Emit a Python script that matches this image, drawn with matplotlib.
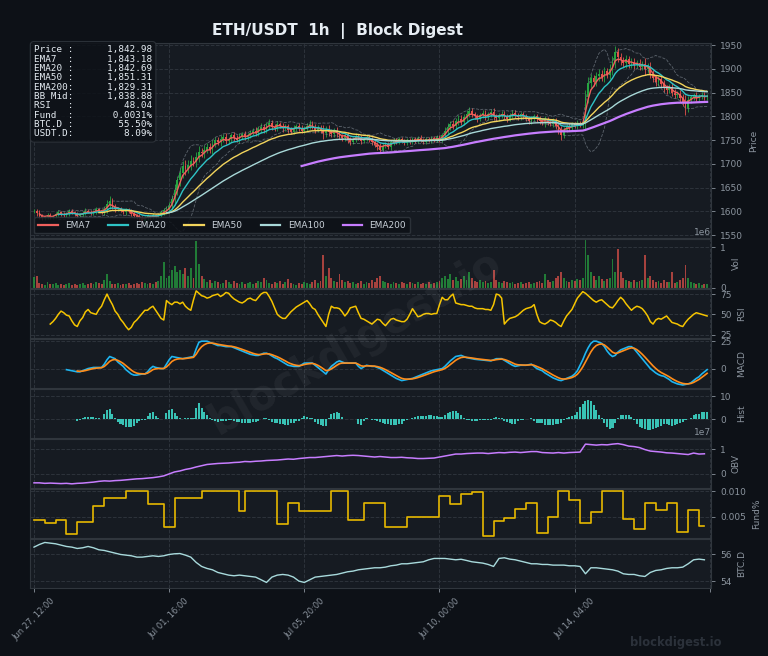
import numpy as np
import pandas as pd
import matplotlib
matplotlib.use("Agg")
import matplotlib.pyplot as plt

# ---- data ----
# 2-hour bars, bar 0 = Jun 27 12:00
close = [
    1600, 1596, 1590, 1585, 1588, 1592, 1587, 1590, 1595, 1598,
    1594, 1592, 1596, 1600, 1598, 1594, 1590, 1593, 1597, 1601,
    1599, 1596, 1600, 1604, 1602, 1598, 1605, 1615, 1622, 1610,
    1604, 1606, 1601, 1598, 1603, 1600, 1595, 1590, 1588, 1584,
    1580, 1586, 1590, 1587, 1592, 1589, 1593, 1598, 1602, 1605,
    1612, 1625, 1645, 1665, 1680, 1695, 1690, 1698, 1706, 1704,
    1715, 1725, 1722, 1730, 1736, 1730, 1742, 1750, 1745, 1752,
    1757, 1748, 1752, 1760, 1755, 1750, 1758, 1763, 1756, 1760,
    1766, 1770, 1765, 1773, 1778, 1772, 1781, 1786, 1778, 1775,
    1784, 1780, 1775, 1779, 1772, 1768, 1775, 1780, 1776, 1770,
    1774, 1780, 1785, 1778, 1772, 1776, 1770, 1765, 1772, 1768,
    1762, 1770, 1764, 1758, 1754, 1760, 1750, 1746, 1752, 1758,
    1755, 1748, 1752, 1756, 1750, 1745, 1740, 1736, 1730, 1738,
    1742, 1735, 1745, 1750, 1746, 1752, 1748, 1744, 1750, 1746,
    1752, 1748, 1755, 1750, 1746, 1752, 1749, 1754, 1750, 1756,
    1752, 1760, 1770, 1778, 1785, 1780, 1790, 1795, 1788, 1798,
    1805, 1812, 1805, 1800, 1795, 1802, 1808, 1798, 1804, 1810,
    1800, 1796, 1802, 1806, 1800, 1795, 1803, 1808, 1802, 1798,
    1804, 1800, 1795, 1790, 1796, 1800, 1794, 1790, 1786, 1792,
    1788, 1784, 1790, 1780, 1770, 1760, 1772, 1780, 1776, 1784,
    1780, 1786, 1782, 1788, 1840, 1870, 1880, 1872, 1885, 1890,
    1882, 1895, 1888, 1900, 1915, 1935, 1925, 1918, 1912, 1920,
    1910, 1915, 1908, 1912, 1905, 1910, 1900, 1905, 1890, 1880,
    1872, 1878, 1868, 1860, 1855, 1862, 1850, 1845, 1848, 1838,
    1830, 1818, 1835, 1840, 1845, 1838, 1842, 1846, 1840, 1843,
]
wick = [
    4, 5, 6, 4, 3, 5, 4, 3, 4, 5,
    3, 4, 3, 5, 4, 3, 4, 3, 4, 5,
    3, 4, 3, 5, 4, 3, 6, 8, 10, 6,
    5, 4, 3, 4, 5, 3, 4, 5, 4, 6,
    7, 5, 4, 3, 4, 3, 4, 5, 6, 7,
    8, 10, 12, 10, 12, 10, 14, 10, 12, 8,
    10, 12, 8, 9, 7, 8, 9, 7, 6, 8,
    6, 7, 5, 6, 7, 5, 6, 5, 6, 5,
    6, 5, 7, 6, 8, 6, 7, 8, 6, 5,
    6, 5, 7, 5, 6, 5, 6, 5, 6, 5,
    5, 6, 7, 5, 6, 5, 6, 12, 8, 9,
    6, 5, 7, 6, 5, 6, 7, 6, 5, 6,
    5, 6, 5, 4, 5, 6, 5, 7, 8, 6,
    5, 4, 6, 5, 4, 5, 4, 5, 4, 5,
    4, 5, 4, 5, 4, 5, 4, 5, 4, 5,
    5, 6, 7, 8, 6, 7, 6, 8, 7, 6,
    8, 7, 6, 5, 6, 5, 6, 5, 6, 5,
    8, 6, 5, 6, 5, 6, 5, 6, 5, 5,
    5, 6, 5, 6, 5, 6, 5, 6, 5, 8,
    6, 5, 6, 7, 8, 10, 6, 5, 6, 5,
    5, 6, 5, 6, 15, 12, 10, 8, 9, 10,
    8, 9, 8, 10, 12, 14, 10, 9, 8, 9,
    8, 7, 8, 7, 8, 7, 12, 8, 9, 8,
    7, 8, 7, 8, 7, 6, 8, 7, 6, 8,
    9, 15, 8, 6, 5, 6, 5, 6, 5, 5,
]
volume = [  # millions
    0.27, 0.30, 0.12, 0.10, 0.08, 0.15, 0.10, 0.09, 0.12, 0.08,
    0.10, 0.07, 0.09, 0.12, 0.08, 0.10, 0.07, 0.09, 0.11, 0.08,
    0.10, 0.12, 0.09, 0.15, 0.12, 0.10, 0.20, 0.35, 0.18, 0.10,
    0.09, 0.12, 0.08, 0.10, 0.09, 0.11, 0.08, 0.10, 0.12, 0.09,
    0.15, 0.11, 0.09, 0.12, 0.10, 0.14, 0.18, 0.30, 0.65, 0.25,
    0.30, 0.45, 0.55, 0.40, 0.45, 0.35, 0.50, 0.30, 0.50, 0.25,
    1.15, 0.60, 0.30, 0.22, 0.15, 0.20, 0.12, 0.18, 0.15, 0.10,
    0.12, 0.20, 0.15, 0.10, 0.18, 0.12, 0.09, 0.14, 0.10, 0.12,
    0.15, 0.10, 0.12, 0.18, 0.14, 0.25, 0.20, 0.12, 0.10, 0.15,
    0.12, 0.18, 0.10, 0.14, 0.22, 0.12, 0.10, 0.08, 0.12, 0.10,
    0.14, 0.12, 0.10, 0.15, 0.20, 0.12, 0.18, 0.82, 0.30, 0.50,
    0.25, 0.18, 0.15, 0.35, 0.20, 0.14, 0.18, 0.12, 0.15, 0.10,
    0.12, 0.18, 0.10, 0.14, 0.12, 0.20, 0.15, 0.25, 0.30, 0.18,
    0.15, 0.12, 0.10, 0.14, 0.12, 0.10, 0.15, 0.12, 0.10, 0.14,
    0.12, 0.10, 0.15, 0.10, 0.12, 0.10, 0.14, 0.10, 0.12, 0.15,
    0.18, 0.25, 0.30, 0.22, 0.35, 0.20, 0.28, 0.18, 0.22, 0.30,
    0.20, 0.40, 0.25, 0.18, 0.15, 0.20, 0.14, 0.18, 0.12, 0.15,
    0.45, 0.20, 0.15, 0.12, 0.18, 0.14, 0.12, 0.15, 0.10, 0.12,
    0.14, 0.10, 0.12, 0.15, 0.10, 0.12, 0.14, 0.18, 0.12, 0.35,
    0.20, 0.15, 0.18, 0.25, 0.30, 0.40, 0.25, 0.18, 0.15, 0.20,
    0.18, 0.22, 0.20, 0.25, 1.17, 0.82, 0.40, 0.30, 0.20, 0.30,
    0.22, 0.18, 0.22, 0.25, 0.72, 0.40, 0.95, 0.40, 0.25, 0.20,
    0.18, 0.15, 0.20, 0.15, 0.18, 0.20, 0.82, 0.25, 0.30, 0.20,
    0.15, 0.18, 0.12, 0.20, 0.15, 0.15, 0.38, 0.12, 0.15, 0.20,
    0.25, 0.57, 0.25, 0.15, 0.12, 0.10, 0.12, 0.08, 0.10, 0.09,
]
rsi = [
    np.nan, np.nan, np.nan, np.nan, np.nan, np.nan, 38, 41, 45, 50,
    54, 52, 49, 48, 42, 37, 35, 42, 46, 53,
    56, 52, 51, 50, 56, 60, 68, 75, 68, 62,
    54, 50, 44, 40, 35, 31, 34, 40, 43, 47,
    51, 55, 55, 58, 60, 55, 50, 45, 43, 67,
    64, 62, 65, 65, 63, 65, 60, 57, 55, 68,
    79, 76, 73, 72, 70, 71, 73, 74, 75, 72,
    74, 77, 76, 72, 69, 67, 65, 64, 66, 69,
    70, 68, 67, 71, 75, 77, 77, 72, 66, 58,
    50, 47, 45, 45, 49, 53, 56, 59, 61, 63,
    65, 67, 63, 58, 56, 50, 45, 40, 35, 50,
    60, 58, 58, 57, 53, 48, 52, 58, 59, 60,
    52, 45, 44, 42, 40, 38, 41, 44, 43, 39,
    36, 40, 44, 45, 43, 42, 41, 41, 44, 50,
    57, 52, 47, 48, 50, 51, 51, 50, 51, 51,
    62, 71, 68, 68, 72, 75, 64, 63, 62, 62,
    61, 60, 60, 58, 57, 57, 57, 56, 56, 55,
    62, 75, 74, 70, 38, 42, 45, 46, 47, 49,
    52, 55, 57, 58, 59, 62, 50, 41, 39, 38,
    40, 43, 42, 40, 37, 35, 42, 48, 52, 56,
    63, 70, 74, 78, 76, 73, 70, 67, 65, 67,
    68, 65, 62, 59, 58, 62, 67, 71, 68, 63,
    59, 55, 58, 60, 59, 57, 53, 48, 41, 38,
    43, 45, 44, 46, 48, 44, 40, 39, 38, 36,
    35, 40, 44, 47, 50, 52, 51, 50, 49, 48,
]
macd = [
    np.nan, np.nan, np.nan, np.nan, np.nan, np.nan, np.nan, np.nan, np.nan, np.nan,
    np.nan, np.nan, -1, -1.5, -2, -2.5, -3, -3, -2, -1,
    0, 0.5, 1, 1, 1, 1, 4, 8, 11, 10,
    9, 6, 4, 2, -1, -3, -5, -6, -6, -5.5,
    -5, -5, -3, 0, 2, 1, 0.5, 0, 0, 4,
    8, 11, 10.5, 10, 9.5, 9, 9.5, 10, 10.5, 11,
    18, 24, 25, 25, 25, 24, 23, 22, 21, 21,
    20.5, 20, 20, 20, 19, 18, 17, 16, 15, 14,
    13, 12.5, 12, 12, 13, 14, 14, 13, 11.5, 10,
    9, 7.5, 6, 4.5, 3, 2.5, 2, 2, 2, 3.5,
    5, 5, 5, 5, 3, 1, -1, -3, -5, -1,
    2, 4, 6, 7, 6, 5, 5, 5, 5, 5,
    2, 0, 1.5, 3, 2.5, 2, 2, 1, 0, -1.5,
    -3, -4.5, -6, -7.5, -9, -10, -11, -10.5, -10, -9.5,
    -9, -8, -7, -6, -5, -4, -3, -2, -1.5, -1,
    -0.5, 0, 2, 4.5, 7, 9, 11, 11.5, 12, 11,
    10, 9.5, 9, 8.5, 8.2, 8, 7.8, 7.5, 7.2, 7,
    8, 9, 9, 9, 7.5, 6, 4.5, 3, 2, 2.5,
    3, 3, 3, 3.5, 4, 2, 0, -1, -2, -4,
    -5.5, -7, -8.5, -9.5, -10.5, -11, -10, -9, -8, -7,
    -5, -2, 3, 8, 14, 19, 23, 25, 25, 24,
    23, 20, 16, 13, 11, 12, 15, 17, 18, 19,
    20, 20, 18, 15, 12, 9, 6, 3, 0, -2,
    -4, -5.5, -6.5, -7, -8.5, -10, -12, -13, -14, -14.5,
    -15, -14.5, -14, -13, -11, -9, -7.5, -5, -3, -1,
]

# 4-hour samples
obv = [  # 1e7 units
    -0.36, -0.36, -0.38, -0.37, -0.38, -0.39, -0.38, -0.40, -0.38, -0.37,
    -0.35, -0.33, -0.30, -0.28, -0.29, -0.27, -0.26, -0.24, -0.22, -0.20,
    -0.19, -0.17, -0.15, -0.12, -0.08, 0.00, 0.08, 0.12, 0.18, 0.22,
    0.28, 0.33, 0.38, 0.40, 0.42, 0.43, 0.44, 0.46, 0.47, 0.50,
    0.49, 0.51, 0.52, 0.54, 0.55, 0.56, 0.58, 0.60, 0.59, 0.62,
    0.64, 0.66, 0.66, 0.68, 0.70, 0.72, 0.74, 0.72, 0.74, 0.75,
    0.74, 0.72, 0.70, 0.68, 0.70, 0.68, 0.66, 0.66, 0.67, 0.65,
    0.64, 0.62, 0.62, 0.63, 0.64, 0.68, 0.72, 0.76, 0.80, 0.80,
    0.82, 0.83, 0.84, 0.84, 0.82, 0.84, 0.86, 0.85, 0.87, 0.88,
    0.86, 0.88, 0.90, 0.90, 0.86, 0.85, 0.84, 0.86, 0.84, 0.86,
    0.87, 0.88, 1.20, 1.18, 1.16, 1.18, 1.17, 1.20, 1.22, 1.18,
    1.12, 1.10, 1.06, 0.98, 0.92, 0.90, 0.88, 0.85, 0.84, 0.82,
    0.80, 0.78, 0.84, 0.80, 0.81,
]
btc_d = [
    56.55, 56.75, 56.90, 56.85, 56.80, 56.70, 56.60, 56.55, 56.45, 56.50,
    56.60, 56.50, 56.35, 56.30, 56.20, 56.10, 56.00, 55.95, 55.90, 55.80,
    55.80, 55.85, 55.90, 55.85, 55.90, 56.00, 56.05, 56.07, 55.95, 55.80,
    55.40, 55.10, 54.95, 54.85, 54.65, 54.55, 54.45, 54.40, 54.45, 54.40,
    54.35, 54.30, 54.10, 53.90, 54.30, 54.45, 54.50, 54.45, 54.30, 54.00,
    53.90, 54.10, 54.30, 54.35, 54.40, 54.45, 54.50, 54.60, 54.70, 54.75,
    54.85, 54.90, 54.95, 55.00, 55.00, 55.05, 55.15, 55.20, 55.30, 55.30,
    55.35, 55.40, 55.45, 55.60, 55.70, 55.70, 55.70, 55.65, 55.60, 55.64,
    55.55, 55.45, 55.40, 55.35, 55.25, 55.10, 55.70, 55.75, 55.65, 55.60,
    55.50, 55.40, 55.30, 55.30, 55.25, 55.25, 55.20, 55.20, 55.20, 55.15,
    55.15, 55.10, 54.55, 55.00, 55.00, 54.95, 54.90, 54.85, 54.75, 54.55,
    54.50, 54.50, 54.40, 54.35, 54.65, 54.80, 54.85, 54.95, 55.00, 55.00,
    55.05, 55.30, 55.60, 55.65, 55.60,
]
funding = [  # percent
    0.0044, 0.0044, 0.0038, 0.0038, 0.0044, 0.0044, 0.0016, 0.0016, 0.0040, 0.0040,
    0.0040, 0.0070, 0.0070, 0.0086, 0.0086, 0.0086, 0.0086, 0.0100, 0.0100, 0.0100,
    0.0100, 0.0075, 0.0075, 0.0075, 0.0030, 0.0030, 0.0086, 0.0086, 0.0086, 0.0086,
    0.0086, 0.0100, 0.0100, 0.0100, 0.0100, 0.0100, 0.0100, 0.0100, 0.0060, 0.0100,
    0.0100, 0.0100, 0.0100, 0.0100, 0.0100, 0.0036, 0.0036, 0.0076, 0.0076, 0.0060,
    0.0060, 0.0060, 0.0060, 0.0060, 0.0060, 0.0100, 0.0100, 0.0100, 0.0044, 0.0044,
    0.0044, 0.0076, 0.0076, 0.0076, 0.0076, 0.0030, 0.0030, 0.0030, 0.0030, 0.0050,
    0.0050, 0.0050, 0.0050, 0.0050, 0.0050, 0.0090, 0.0090, 0.0074, 0.0074, 0.0094,
    0.0094, 0.0098, 0.0098, 0.0012, 0.0012, 0.0042, 0.0042, 0.0048, 0.0048, 0.0064,
    0.0064, 0.0076, 0.0076, 0.0018, 0.0018, 0.0050, 0.0050, 0.0100, 0.0100, 0.0082,
    0.0082, 0.0038, 0.0038, 0.0058, 0.0058, 0.0100, 0.0100, 0.0100, 0.0100, 0.0046,
    0.0046, 0.0026, 0.0026, 0.0076, 0.0076, 0.0062, 0.0062, 0.0076, 0.0076, 0.0020,
    0.0020, 0.0062, 0.0062, 0.0032, 0.0032,
]

tick_pos = [0, 100, 200, 300, 400, 500]
tick_labels = ["Jun 27, 12:00", "Jul 01, 16:00", "Jul 05, 20:00",
               "Jul 10, 00:00", "Jul 14, 04:00", ""]

info_rows = [("Price", "1,842.98"), ("EMA7", "1,843.18"), ("EMA20", "1,842.69"),
             ("EMA50", "1,851.31"), ("EMA200", "1,829.31"), ("BB Mid", "1,838.88"),
             ("RSI", "48.04"), ("Fund", "0.0031%"), ("BTC.D", "55.50%"),
             ("USDT.D", "8.09%")]

# ---- colours ----
BG = "#0d1117"
PANEL = "#161b22"
GRID = "#2d333b"
TXT = "#8b949e"
UP = "#26a641"
DOWN = "#e5534b"

# ---- derived series (spans given in hours, bars are 2h) ----
h2 = np.arange(len(close)) * 2
h4 = np.arange(len(obv)) * 4
c = pd.Series(close, dtype=float)
opn = c.shift(1).fillna(c.iloc[0])
wk = np.array(wick, dtype=float)
high = np.maximum(opn, c) + wk
low = np.minimum(opn, c) - wk


def ema(span_h):
    e = c.ewm(span=span_h / 2, adjust=False).mean()
    e[: int(span_h / 2) - 1] = np.nan
    return e


ema_specs = [(7, "#f0605d", 1.0, "EMA7"), (20, "#2ec4c6", 1.0, "EMA20"),
             (50, "#f2d45c", 1.0, "EMA50"), (100, "#a8d8d8", 1.0, "EMA100"),
             (200, "#c77dff", 1.6, "EMA200")]

bb_mid = c.rolling(10).mean()
bb_sd = c.rolling(10).std()

m = pd.Series(macd, dtype=float)
signal = m.ewm(span=4.5, adjust=False, ignore_na=True).mean()
signal[:16] = np.nan
hist = m - signal

# ---- figure ----
fig = plt.figure(figsize=(7.68, 6.56), dpi=100, facecolor=BG)
gs = fig.add_gridspec(8, 1, height_ratios=[4, 1, 1, 1, 1, 1, 1, 1], hspace=0.02,
                      left=0.039, right=0.926, top=0.934, bottom=0.104)
axes = [fig.add_subplot(gs[0])]
for k in range(1, 8):
    axes.append(fig.add_subplot(gs[k], sharex=axes[0]))
ax_p, ax_v, ax_r, ax_m, ax_h, ax_o, ax_f, ax_b = axes

labels = ["Price", "Vol", "RSI", "MACD", "Hist", "OBV", "Fund%", "BTC.D"]
for ax, lab in zip(axes, labels):
    ax.set_facecolor(PANEL)
    ax.grid(True, color=GRID, linestyle="--", linewidth=0.7)
    ax.set_axisbelow(True)
    ax.yaxis.tick_right()
    ax.yaxis.set_label_position("right")
    ax.set_ylabel(lab, color=TXT, fontsize=6.5)
    ax.tick_params(colors=TXT, labelsize=6.5, length=3, width=0.6)
    for s in ax.spines.values():
        s.set_color("#30363d")
    if ax is not ax_b:
        plt.setp(ax.get_xticklabels(), visible=False)

# price panel
cols = [UP if cl >= op else DOWN for op, cl in zip(opn, c)]
ax_p.vlines(h2, low, high, colors=cols, linewidth=0.6, zorder=2)
body = np.maximum(np.abs(c - opn), 0.8)
ax_p.bar(h2, body, bottom=np.minimum(opn, c), width=1.3, color=cols, zorder=3)
ax_p.plot(h2, bb_mid + 2 * bb_sd, color=TXT, lw=0.6, ls="--", alpha=0.6, zorder=2)
ax_p.plot(h2, bb_mid - 2 * bb_sd, color=TXT, lw=0.6, ls="--", alpha=0.6, zorder=2)
for span, col, lw, lab in ema_specs:
    ax_p.plot(h2, ema(span), color=col, lw=lw, label=lab, zorder=4)
ax_p.set_ylim(1544, 1954)
ax_p.set_yticks(np.arange(1550, 1951, 50))
leg = ax_p.legend(loc="lower left", ncol=5, fontsize=6.5, frameon=True,
                  facecolor=BG, edgecolor="#30363d", labelcolor="#c9d1d9",
                  handlelength=2.2)
leg.get_frame().set_alpha(0.85)
for ln in leg.get_lines():
    ln.set_linewidth(1.6)

info = "\n".join(f"{k:<6}:{v:>14}" for k, v in info_rows)
ax_p.text(0.006, 0.99, info, transform=ax_p.transAxes, va="top", ha="left",
          family="DejaVu Sans Mono", fontsize=6.7, color="#e6edf3", linespacing=1.05,
          zorder=6, bbox=dict(boxstyle="round,pad=0.4", facecolor=BG, alpha=0.85,
                              edgecolor="#30363d", linewidth=0.8))

# volume
ax_v.bar(h2, np.array(volume) * 1e6, width=1.4, color=cols, alpha=0.7)
ax_v.set_ylim(0, 1.2e6)
ax_v.set_yticks([0, 1e6])
ax_v.ticklabel_format(axis="y", style="sci", scilimits=(0, 0))
ax_v.yaxis.set_offset_position("right")

# RSI
ax_r.plot(h2, rsi, color="#f5c400", lw=1.1)
ax_r.set_ylim(21, 81)
ax_r.set_yticks([25, 50, 75])

# MACD
ax_m.plot(h2, m, color="#1fb5f0", lw=1.2)
ax_m.plot(h2, signal, color="#ff8c1a", lw=1.2)
ax_m.set_ylim(-17.6, 26.8)
ax_m.set_yticks([0, 25])

# histogram
ax_h.bar(h2, hist, width=1.5, color="#40e0d0", alpha=0.85)
ax_h.set_ylim(-8.2, 13.2)
ax_h.set_yticks([0, 10])

# OBV
ax_o.plot(h4, np.array(obv) * 1e7, color="#c77dff", lw=1.1)
ax_o.set_ylim(-0.56e7, 1.4e7)
ax_o.set_yticks([0, 1e7])
ax_o.ticklabel_format(axis="y", style="sci", scilimits=(0, 0))
ax_o.yaxis.set_offset_position("right")

# funding
ax_f.plot(h4, funding, color="#e6b800", lw=1.2, drawstyle="steps-post")
ax_f.set_ylim(0.0008, 0.0104)
ax_f.set_yticks([0.005, 0.010])

# BTC dominance
ax_b.plot(h4, btc_d, color="#a8dadc", lw=1.0)
ax_b.set_ylim(53.5, 57.15)
ax_b.set_yticks([54, 56])

ax_b.set_xlim(-3, 501)
ax_b.set_xticks(tick_pos)
ax_b.set_xticklabels(tick_labels, rotation=45, fontsize=6, color=TXT)

for ax in (ax_v, ax_o):
    ax.yaxis.get_offset_text().set_color(TXT)
    ax.yaxis.get_offset_text().set_fontsize(6.5)

fig.text(0.44, 0.953, "ETH/USDT  1h  |  Block Digest", ha="center", va="center",
         fontsize=11, fontweight="bold", color="#e6edf3")
fig.text(0.462, 0.479, "blockdigest.io", ha="center", va="center", rotation=30,
         fontsize=30, fontweight="bold", color="white", alpha=0.05)
fig.text(0.880, 0.020, "blockdigest.io", ha="center", va="center",
         fontsize=8.3, fontweight="bold", color="#2b313a")

fig.savefig("out.png", dpi=100, facecolor=BG)
